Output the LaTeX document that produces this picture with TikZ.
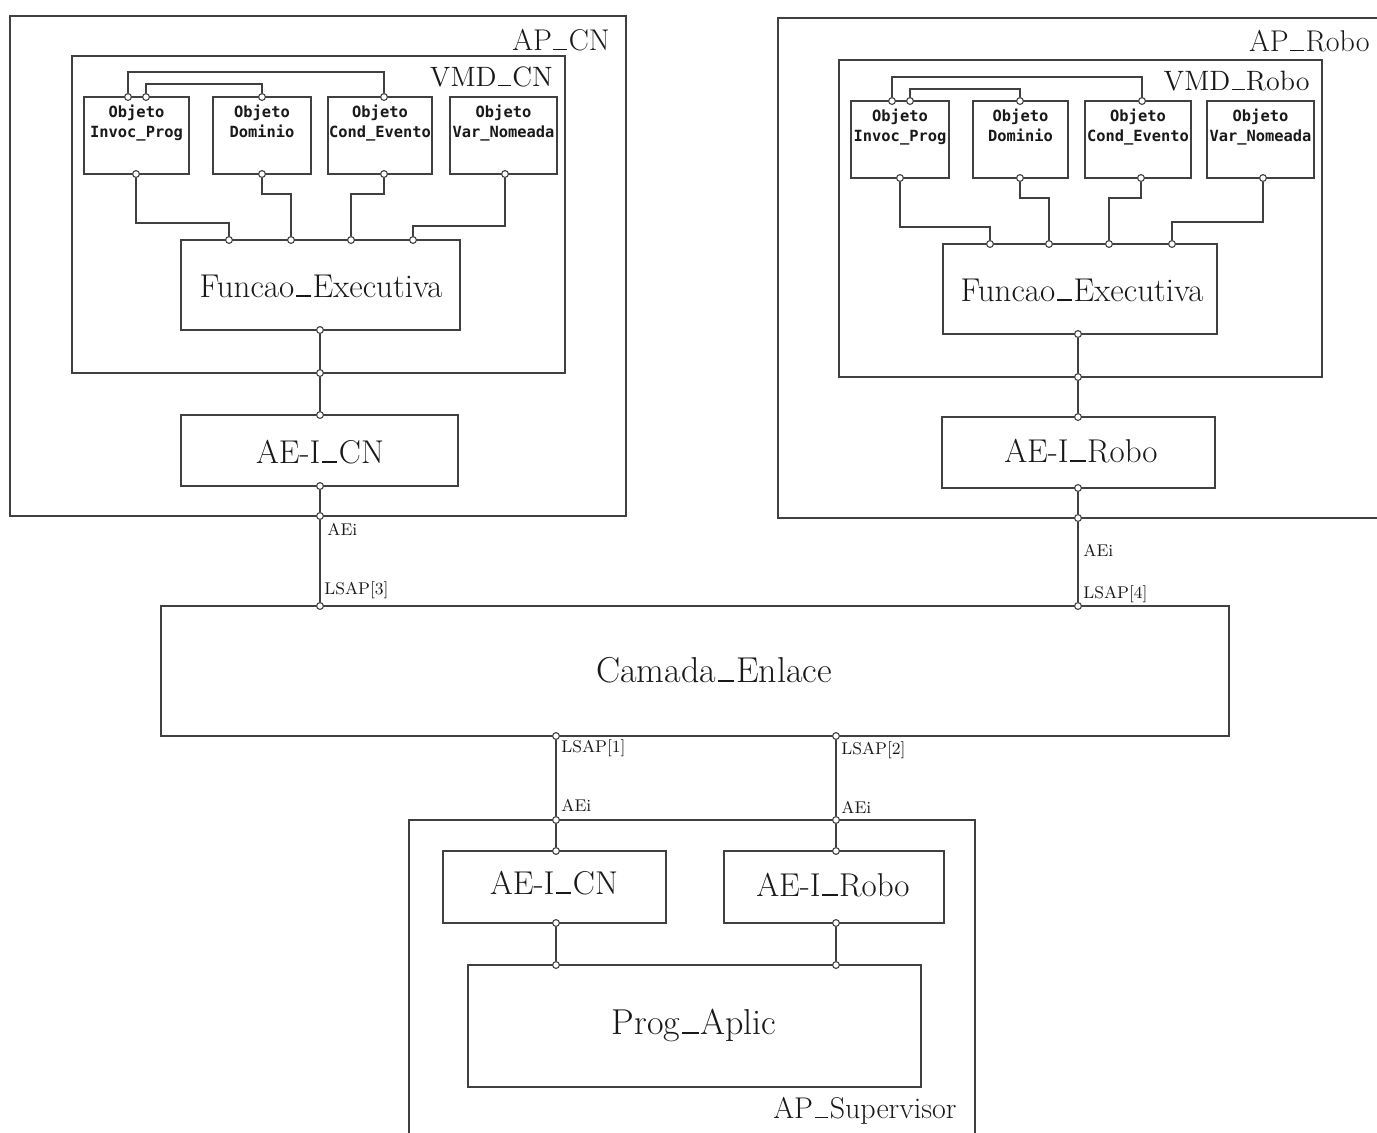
\documentclass[tikz,border=0pt]{standalone}
\usepackage{fontspec}
\newfontfamily\objfont{DejaVu Sans Mono}
\usetikzlibrary{fit}
\definecolor{ink}{gray}{0.25}
\definecolor{txt}{gray}{0.1}
% low connecting stroke used inside the identifiers
\newcommand\usc{\leavevmode\kern0.05em\rule[0em]{0.46em}{0.05em}\kern0.05em}

\begin{document}
\begin{tikzpicture}[x=0.5pt,y=-0.5pt,
  box/.style={draw=ink, line width=0.6pt, inner sep=0pt, rectangle},
  port/.style={circle, draw=ink, fill=white, line width=0.55pt, inner sep=0pt, minimum size=3.4pt},
  wire/.style={draw=ink, line width=0.6pt},
  big/.style={text=txt, font=\fontsize{16.5}{19}\selectfont, inner sep=0pt, anchor=base},
  huge/.style={text=txt, font=\fontsize{18}{21}\selectfont, inner sep=0pt, anchor=base},
  tag/.style={text=txt, font=\fontsize{15}{18}\selectfont, inner sep=0pt, anchor=base east},
  vtag/.style={tag, font=\fontsize{14}{17}\selectfont},
  obj/.style={text=txt, font=\objfont\bfseries\fontsize{7.7}{10}\selectfont, align=center, inner sep=0pt, anchor=north, yshift=-4.3pt},
  sap/.style={text=txt, font=\fontsize{8.5}{10}\selectfont, inner sep=0pt, anchor=west},
]
\clip (0,0) rectangle (1377,1132);
\fill[white] (0,0) rectangle (1377,1132);

% ---------- AP_CN ----------
\node[box, fit={(10,16) (626,516)}] (apcn) {};
\node[box, fit={(72,56) (565,373)}] (vmdcn) {};
\node[box, fit={(84,97) (189,174)}] (ipcn) {};
\node[box, fit={(213,97) (311,174)}] (docn) {};
\node[box, fit={(328,97) (432,174)}] (cecn) {};
\node[box, fit={(450,97) (557,174)}] (vncn) {};
\node[box, fit={(181,240) (460,330)}] (fecn) {};
\node[box, fit={(181,415) (458,486)}] (aecn) {};
\node[big] (tfecn) at (321,297) {Funcao\usc Executiva};
\node[big] (taecn) at (320,463) {AE-I\usc CN};
\node[tag] (tapcn) at (610,50) {AP\usc CN};
\node[vtag] (tvmdcn) at (553,86) {VMD\usc CN};
\node[obj] (tipcn) at (ipcn.north) {Objeto\\Invoc\_Prog};
\node[obj] (tdocn) at (docn.north) {Objeto\\Dominio};
\node[obj] (tcecn) at (cecn.north) {Objeto\\Cond\_Evento};
\node[obj] (tvncn) at (vncn.north) {Objeto\\Var\_Nomeada};

% ---------- AP_Robo ----------
\node[box, fit={(778,18) (1400,518)}] (aprb) {};
\node[box, fit={(839,60) (1322,377)}] (vmdrb) {};
\node[box, fit={(851,101) (949,178)}] (iprb) {};
\node[box, fit={(973,101) (1068,178)}] (dorb) {};
\node[box, fit={(1085,101) (1191,178)}] (cerb) {};
\node[box, fit={(1207,101) (1314,178)}] (vnrb) {};
\node[box, fit={(943,244) (1217,334)}] (ferb) {};
\node[box, fit={(942,417) (1215,488)}] (aerb) {};
\node[big] (tferb) at (1082,301) {Funcao\usc Executiva};
\node[big] (taerb) at (1081,462) {AE-I\usc Robo};
\node[tag] (taprb) at (1370,51) {AP\usc Robo};
\node[vtag] (tvmdrb) at (1310,90) {VMD\usc Robo};
\node[obj] (tiprb) at (iprb.north) {Objeto\\Invoc\_Prog};
\node[obj] (tdorb) at (dorb.north) {Objeto\\Dominio};
\node[obj] (tcerb) at (cerb.north) {Objeto\\Cond\_Evento};
\node[obj] (tvnrb) at (vnrb.north) {Objeto\\Var\_Nomeada};

% ---------- link layer ----------
\node[box, fit={(161,606) (1229,736)}] (enl) {};
\node[huge] (tenl) at (714,682) {Camada\usc Enlace};

% ---------- AP_Supervisor ----------
\node[box, fit={(409,820) (975,1160)}] (apsv) {};
\node[box, fit={(443,851) (666,923)}] (aesc) {};
\node[box, fit={(724,851) (944,923)}] (aesr) {};
\node[box, fit={(468,965) (921,1087)}] (prog) {};
\node[big] (taesc) at (554,894) {AE-I\usc CN};
\node[big] (taesr) at (833,896) {AE-I\usc Robo};
\node[huge] (tprog) at (694,1034) {Prog\usc Aplic};
\node[tag] (tapsv) at (957,1118) {AP\usc Supervisor};

% ---------- ports ----------
% AP_CN
\node[port] (i1a) at (128,97) {};
\node[port] (i1b) at (146,97) {};
\node[port] (d1t) at (262,97) {};
\node[port] (c1t) at (384,97) {};
\node[port] (i1o) at (136,174) {};
\node[port] (d1o) at (262,174) {};
\node[port] (c1o) at (384,174) {};
\node[port] (v1o) at (505,174) {};
\node[port] (f1a) at (229,240) {};
\node[port] (f1b) at (291,240) {};
\node[port] (f1c) at (351,240) {};
\node[port] (f1d) at (413,240) {};
\node[port] (f1o) at (320,330) {};
\node[port] (vm1) at (320,373) {};
\node[port] (ae1t) at (320,415) {};
\node[port] (ae1o) at (320,486) {};
\node[port] (ap1) at (320,516) {};
\node[port] (ls3) at (320,606) {};
% AP_Robo
\node[port] (i2a) at (892,101) {};
\node[port] (i2b) at (910,101) {};
\node[port] (d2t) at (1020,101) {};
\node[port] (c2t) at (1142,101) {};
\node[port] (i2o) at (900,178) {};
\node[port] (d2o) at (1020,178) {};
\node[port] (c2o) at (1141,178) {};
\node[port] (v2o) at (1263,178) {};
\node[port] (f2a) at (990,244) {};
\node[port] (f2b) at (1049,244) {};
\node[port] (f2c) at (1109,244) {};
\node[port] (f2d) at (1172,244) {};
\node[port] (f2o) at (1078,334) {};
\node[port] (vm2) at (1078,377) {};
\node[port] (ae2t) at (1078,417) {};
\node[port] (ae2o) at (1078,488) {};
\node[port] (ap2) at (1078,518) {};
\node[port] (ls4) at (1078,606) {};
% AP_Supervisor
\node[port] (ls1) at (556,736) {};
\node[port] (sv1) at (556,820) {};
\node[port] (as1t) at (556,851) {};
\node[port] (as1o) at (556,923) {};
\node[port] (pg1) at (556,965) {};
\node[port] (ls2) at (836,736) {};
\node[port] (sv2) at (836,820) {};
\node[port] (as2t) at (836,851) {};
\node[port] (as2o) at (836,923) {};
\node[port] (pg2) at (836,965) {};

% ---------- connectors ----------
% AP_CN objects
\draw[wire] (i1a) -- ++(0,-25) -| (c1t);
\draw[wire] (i1b) -- ++(0,-13) -| (d1t);
\draw[wire] (i1o) -- ++(0,49) -| (f1a);
\draw[wire] (d1o) -- ++(0,20) -| (f1b);
\draw[wire] (c1o) -- ++(0,20) -| (f1c);
\draw[wire] (v1o) -- ++(0,52) -| (f1d);
\draw[wire] (f1o) -- (vm1);
\draw[wire] (vm1) -- (ae1t);
\draw[wire] (ae1o) -- (ap1);
\draw[wire] (ap1) -- (ls3);
% AP_Robo objects
\draw[wire] (i2a) -- ++(0,-24) -| (c2t);
\draw[wire] (i2b) -- ++(0,-12) -| (d2t);
\draw[wire] (i2o) -- ++(0,49) -| (f2a);
\draw[wire] (d2o) -- ++(0,20) -| (f2b);
\draw[wire] (c2o) -- ++(0,20) -| (f2c);
\draw[wire] (v2o) -- ++(0,44) -| (f2d);
\draw[wire] (f2o) -- (vm2);
\draw[wire] (vm2) -- (ae2t);
\draw[wire] (ae2o) -- (ap2);
\draw[wire] (ap2) -- (ls4);
% AP_Supervisor
\draw[wire] (ls1) -- (sv1);
\draw[wire] (sv1) -- (as1t);
\draw[wire] (as1o) -- (pg1);
\draw[wire] (ls2) -- (sv2);
\draw[wire] (sv2) -- (as2t);
\draw[wire] (as2o) -- (pg2);

% ---------- access point labels ----------
\node[sap] (aei3) at (327,529) {AEi};
\node[sap] (lsap3) at (324,590) {LSAP[3]};
\node[sap] (aei4) at (1083,550) {AEi};
\node[sap] (lsap4) at (1083,594) {LSAP[4]};
\node[sap] (lsap1) at (561,748) {LSAP[1]};
\node[sap] (aei1) at (561,805) {AEi};
\node[sap] (lsap2) at (841,750) {LSAP[2]};
\node[sap] (aei2) at (841,807) {AEi};
\end{tikzpicture}
\end{document}
